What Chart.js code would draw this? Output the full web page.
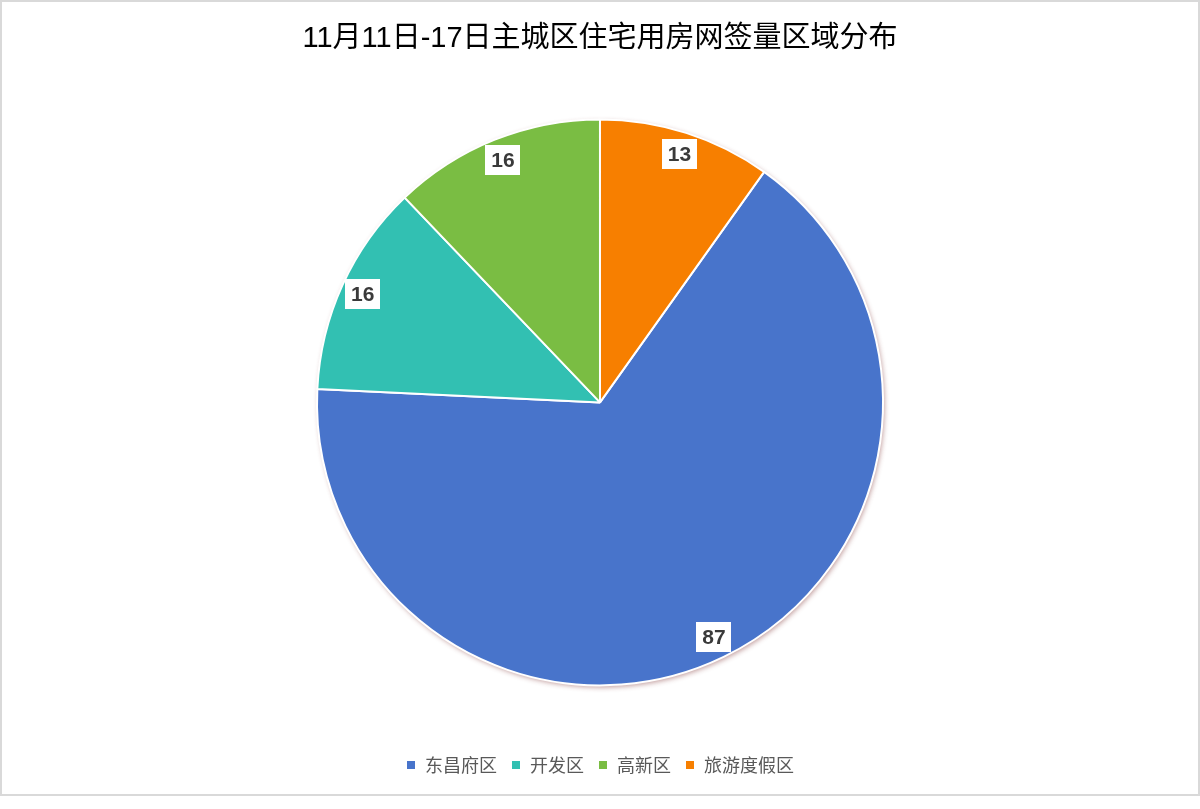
<!DOCTYPE html>
<html>
<head>
<meta charset="utf-8">
<script src="https://cdn.jsdelivr.net/npm/chart.js"></script>
<style>
  html, body { margin: 0; padding: 0; background: #fff; }
  #box { position: absolute; left: 0; top: 0; width: 1196px; height: 792px; border: 2px solid #d9d9d9; }
  canvas { display: block; }
</style>
</head>
<body>
<div id="box"><canvas id="myChart" width="1196" height="792"></canvas></div>
<script>
// 各区域网签量
let areas = ["东昌府区", "开发区", "高新区", "旅游度假区"];
let counts = [87, 16, 16, 13];
let colors = ["#4874CB", "#32C0B2", "#7ABD43", "#F77F00"];

// 饼图下方的阴影
const shadowPlugin = {
  id: "pieShadow",
  beforeDatasetsDraw(chart) {
    let arc = chart.getDatasetMeta(0).data[0];
    if (!arc) return;
    let ctx = chart.ctx;
    ctx.save();
    ctx.shadowColor = "rgba(120, 40, 40, 0.45)";
    ctx.shadowBlur = 5;
    ctx.shadowOffsetX = 1.5;
    ctx.shadowOffsetY = 2;
    ctx.beginPath();
    ctx.arc(arc.x, arc.y, arc.outerRadius, 0, Math.PI * 2);
    ctx.fillStyle = "#fff";
    ctx.fill();
    ctx.restore();
  }
};

// 白底数据标签
const labelPlugin = {
  id: "valueLabels",
  afterDatasetsDraw(chart) {
    let ctx = chart.ctx;
    let meta = chart.getDatasetMeta(0);
    ctx.save();
    ctx.font = "bold 21px 'Liberation Sans', Arial, sans-serif";
    ctx.textAlign = "center";
    ctx.textBaseline = "middle";
    meta.data.forEach((arc, i) => {
      let mid = (arc.startAngle + arc.endAngle) / 2;
      let r = arc.outerRadius * 0.922;
      let x = arc.x + Math.cos(mid) * r;
      let y = arc.y + Math.sin(mid) * r;
      let text = String(counts[i]);
      let w = ctx.measureText(text).width + 12;
      let h = 30;
      ctx.fillStyle = "#fff";
      ctx.fillRect(Math.round(x - w / 2), Math.round(y - h / 2), Math.round(w), h);
      ctx.fillStyle = "#3a3a3a";
      ctx.fillText(text, x, y + 1);
    });
    ctx.restore();
  }
};

let ctx = document.getElementById("myChart").getContext("2d");
new Chart(ctx, {
  type: "pie",
  data: {
    labels: areas,
    datasets: [{
      data: counts,
      backgroundColor: colors,
      borderColor: "#fff",
      borderWidth: 2
    }]
  },
  options: {
    responsive: false,
    animation: false,
    rotation: 35.45,
    radius: 283,
    layout: { padding: { top: 0, bottom: 10 } },
    plugins: {
      title: {
        display: true,
        text: "11月11日-17日主城区住宅用房网签量区域分布",
        color: "#000",
        font: { size: 29, family: "'Liberation Sans', 'Noto Sans CJK SC', sans-serif", weight: "normal" },
        padding: { top: 20, bottom: 6 }
      },
      legend: {
        display: true,
        position: "bottom",
        labels: {
          boxWidth: 10,
          boxHeight: 10,
          padding: 14,
          color: "#595959",
          font: { size: 18, family: "'Noto Sans CJK SC', sans-serif" }
        }
      },
      tooltip: { enabled: false }
    }
  },
  plugins: [shadowPlugin, labelPlugin]
});
</script>
</body>
</html>
